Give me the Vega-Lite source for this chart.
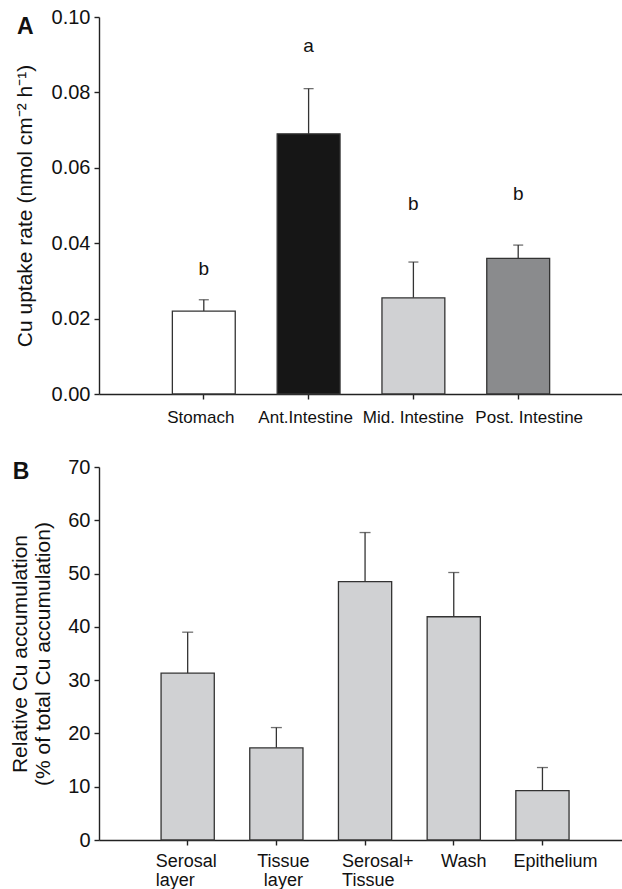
{
  "$schema": "https://vega.github.io/schema/vega-lite/v6.json",
  "background": "white",
  "padding": {"left": 9, "top": 7, "right": 0, "bottom": 0},
  "spacing": 32,
  "config": {
    "view": {"stroke": null},
    "font": "Liberation Sans",
    "axis": {
      "grid": false,
      "domainColor": "#222222",
      "tickColor": "#222222",
      "domainWidth": 1.4,
      "tickWidth": 1.4,
      "tickSize": 5,
      "labelColor": "#111111",
      "titleColor": "#111111",
      "titleFontWeight": "normal"
    },
    "title": {"fontSize": 23, "fontWeight": "bold", "color": "#111111", "anchor": "start", "frame": "bounds"}
  },
  "vconcat": [
    {
      "title": {"text": "A", "dy": 36, "dx": 3},
      "width": 524,
      "height": 377,
      "data": {
        "values": [
          {"region": "Stomach", "rate": 0.022, "upper": 0.025, "group": "b", "letter_y": 0.0332},
          {"region": "Ant.Intestine", "rate": 0.069, "upper": 0.081, "group": "a", "letter_y": 0.0922},
          {"region": "Mid. Intestine", "rate": 0.0255, "upper": 0.035, "group": "b", "letter_y": 0.0505},
          {"region": "Post. Intestine", "rate": 0.036, "upper": 0.0395, "group": "b", "letter_y": 0.0531}
        ]
      },
      "encoding": {
        "x": {
          "field": "region",
          "type": "nominal",
          "sort": null,
          "scale": {"type": "band", "paddingInner": 0.4, "paddingOuter": 0.7},
          "axis": {
            "title": null,
            "labelAngle": 0,
            "labelFontSize": 17,
            "labelPadding": 10,
            "labelOffset": {"expr": "datum.value === 'Post. Intestine' ? 11 : (datum.value === 'Mid. Intestine' ? 0 : -3)"}
          }
        }
      },
      "layer": [
        {
          "mark": {"type": "rule", "color": "#333333", "strokeWidth": 1.3},
          "encoding": {
            "y": {"field": "rate", "type": "quantitative"},
            "y2": {"field": "upper"}
          }
        },
        {
          "mark": {"type": "tick", "color": "#333333", "size": 10, "thickness": 1.3},
          "encoding": {
            "y": {"field": "upper", "type": "quantitative"}
          }
        },
        {
          "mark": {"type": "bar", "stroke": "#333333", "strokeWidth": 1.3},
          "encoding": {
            "y": {
              "field": "rate",
              "type": "quantitative",
              "scale": {"domain": [0, 0.1], "nice": false},
              "axis": {
                "title": "Cu uptake rate (nmol cm⁻² h⁻¹)",
                "titleFontSize": 21,
                "titlePadding": 16,
                "values": [0, 0.02, 0.04, 0.06, 0.08, 0.1],
                "format": ".2f",
                "labelFontSize": 20,
                "labelPadding": 4
              }
            },
            "color": {
              "field": "region",
              "type": "nominal",
              "legend": null,
              "scale": {
                "domain": ["Stomach", "Ant.Intestine", "Mid. Intestine", "Post. Intestine"],
                "range": ["#ffffff", "#161616", "#d0d1d3", "#8a8b8d"]
              }
            }
          }
        },
        {
          "mark": {"type": "text", "fontSize": 19, "color": "#111111", "baseline": "middle"},
          "encoding": {
            "y": {"field": "letter_y", "type": "quantitative"},
            "text": {"field": "group"}
          }
        }
      ]
    },
    {
      "title": {"text": "B", "dy": 31, "dx": 3},
      "width": 524,
      "height": 373,
      "data": {
        "values": [
          {"fraction": "Serosal layer", "accumulation": 31.3, "upper": 39.0},
          {"fraction": "Tissue layer", "accumulation": 17.3, "upper": 21.1},
          {"fraction": "Serosal+ Tissue", "accumulation": 48.5, "upper": 57.7},
          {"fraction": "Wash", "accumulation": 41.9, "upper": 50.2},
          {"fraction": "Epithelium", "accumulation": 9.25, "upper": 13.6}
        ]
      },
      "encoding": {
        "x": {
          "field": "fraction",
          "type": "nominal",
          "sort": null,
          "scale": {"type": "band", "paddingInner": 0.4, "paddingOuter": 0.654, "align": 0.535},
          "axis": {
            "title": null,
            "labelAngle": 0,
            "labelFontSize": 18,
            "labelPadding": 7,
            "labelLineHeight": 19,
            "labelExpr": "split(datum.label, ' ')",
            "labelAlign": {"expr": "datum.value === 'Serosal layer' || datum.value === 'Serosal+ Tissue' ? 'left' : 'center'"},
            "labelOffset": {"expr": "datum.value === 'Serosal layer' ? -32 : datum.value === 'Serosal+ Tissue' ? -23 : datum.value === 'Tissue layer' ? 7 : datum.value === 'Wash' ? 10 : 13"}
          }
        }
      },
      "layer": [
        {
          "mark": {"type": "rule", "color": "#333333", "strokeWidth": 1.3},
          "encoding": {
            "y": {"field": "accumulation", "type": "quantitative"},
            "y2": {"field": "upper"}
          }
        },
        {
          "mark": {"type": "tick", "color": "#333333", "size": 11, "thickness": 1.3},
          "encoding": {
            "y": {"field": "upper", "type": "quantitative"}
          }
        },
        {
          "mark": {"type": "bar", "fill": "#d0d1d3", "stroke": "#333333", "strokeWidth": 1.3},
          "encoding": {
            "y": {
              "field": "accumulation",
              "type": "quantitative",
              "scale": {"domain": [0, 70], "nice": false},
              "axis": {
                "title": ["Relative Cu accumulation", "(% of total Cu accumulation)"],
                "titleFontSize": 21,
                "titleLineHeight": 23,
                "titlePadding": 14,
                "values": [0, 10, 20, 30, 40, 50, 60, 70],
                "labelFontSize": 20,
                "labelPadding": 4
              }
            }
          }
        }
      ]
    }
  ]
}
